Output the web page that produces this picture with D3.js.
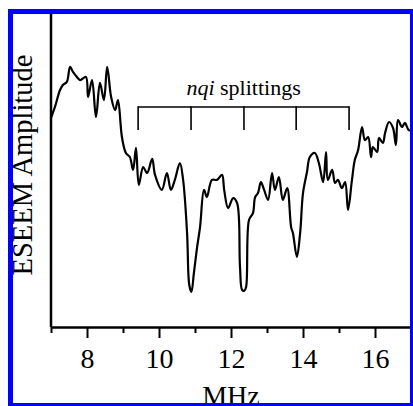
<!DOCTYPE html>
<html>
<head>
<meta charset="utf-8">
<script src="https://cdn.jsdelivr.net/npm/d3@7"></script>
<style>
  body { margin: 0; background: #fff; }
  svg { display: block; }
  text { font-family: 'Liberation Serif', 'Times New Roman', serif; fill: #000; }
</style>
</head>
<body>
<div class="chart"></div>
<script>
// DATA ------------------------------------
const freq = [7.00, 7.11, 7.25, 7.33, 7.44, 7.53, 7.61, 7.72, 7.81, 7.97, 8.03, 8.14, 8.25, 8.36, 8.47, 8.56,
  8.67, 8.78, 8.86, 8.97, 9.08, 9.19, 9.28, 9.36, 9.44, 9.56, 9.67, 9.81, 9.89, 10.08, 10.22, 10.33, 10.44,
  10.58, 10.67, 10.78, 10.84, 10.90, 10.97, 11.06, 11.14, 11.25, 11.33, 11.47, 11.61, 11.75, 11.81, 11.92, 12.06,
  12.17, 12.25, 12.31, 12.37, 12.42, 12.50, 12.61, 12.67, 12.75, 12.83, 12.92, 13.03, 13.14, 13.22, 13.33, 13.44,
  13.56, 13.67, 13.72, 13.83, 13.92, 14.00, 14.11, 14.19, 14.33, 14.44, 14.56, 14.64, 14.69, 14.81, 14.89,
  14.97, 15.08, 15.17, 15.25, 15.36, 15.44, 15.53, 15.64, 15.72, 15.81, 15.89, 15.94, 16.06, 16.11, 16.22,
  16.28, 16.39, 16.50, 16.58, 16.64, 16.75, 16.83, 16.94, 17.06]
const amplitude = [66.8, 70.3, 75.7, 77.3, 78.3, 83.1, 81.5, 79.9, 78.9, 79.9, 73.5, 78.9, 67.1, 78.0, 72.5, 83.1,
  73.5, 69.3, 72.5, 60.7, 55.6, 54.3, 50.2, 57.2, 45.4, 51.1, 49.2, 53.7, 48.6, 43.8, 49.2, 43.8, 47.0,
  52.4, 47.0, 30.0, 13.5, 11.2, 17.3, 25.6, 31.9, 43.8, 41.5, 47.0, 47.0, 48.6, 43.8, 38.0, 41.2,
  39.6, 19.2, 11.8, 11.6, 12.8, 34.2, 36.4, 41.5, 42.8, 46.3, 43.8, 40.6, 49.2, 43.8, 47.9, 40.6,
  44.4, 31.9, 30.0, 22.4, 30.0, 42.8, 49.5, 54.3, 55.6, 52.4, 46.3, 55.9, 47.0, 50.2, 46.0,
  47.0, 44.4, 46.3, 37.4, 47.0, 53.4, 56.5, 63.9, 59.7, 60.7, 54.3, 57.5, 55.9, 60.4, 58.8,
  62.0, 65.5, 63.6, 58.1, 66.1, 63.9, 65.2, 62.9, 62.9]
const xTicks = [8, 10, 12, 14, 16]
const xMinorTicks = [7, 9, 11, 13, 15, 17]
const splittings = [9.42, 10.89, 12.36, 13.81, 15.28]
const bracketTop = 70.3
const bracketBottom = 62.9

const W = 413
const H = 406
const margin = ({ top: 14, right: 0, bottom: 79, left: 51 })
const width = W - margin.left - margin.right
const height = H - margin.top - margin.bottom

// CHART INIT ------------------------------
const root = d3.select('.chart')
  .append('svg')
  .attr('width', W)
  .attr('height', H)

const svg = root.append('g')
  .attr('transform', 'translate(' + margin.left + ',' + margin.top + ')')

const xScale = d3.scaleLinear()
  .domain([7, 7 + width / 36])
  .range([0, width])

const yScale = d3.scaleLinear()
  .domain([0, 100])
  .range([height, 0])

// axes
const xAxis = d3.axisBottom(xScale).tickValues(xTicks).tickSize(11).tickSizeOuter(0).tickFormat(d3.format('d'))
const xMinor = d3.axisBottom(xScale).tickValues(xMinorTicks).tickSize(6).tickSizeOuter(0).tickFormat('')

const gx = svg.append('g')
  .attr('transform', `translate(0, ${height})`)
  .call(xAxis)
gx.select('.domain').attr('stroke-width', 2.5)
gx.selectAll('.tick line').attr('stroke-width', 2)
gx.selectAll('.tick text')
  .attr('font-size', 28)
  .attr('font-family', 'Liberation Serif, serif')
  .attr('dy', 0)
  .attr('y', 41)

const gm = svg.append('g')
  .attr('transform', `translate(0, ${height})`)
  .call(xMinor)
gm.select('.domain').remove()
gm.selectAll('.tick line').attr('stroke-width', 2)

svg.append('line')
  .attr('x1', 0).attr('x2', 0)
  .attr('y1', 0).attr('y2', height)
  .attr('stroke', '#000')
  .attr('stroke-width', 2.5)

// axis labels (MHz is cut by the frame, as in the original figure)
svg.append('text')
  .attr('x', xScale(12))
  .attr('y', height + 78)
  .attr('text-anchor', 'middle')
  .attr('font-size', 28)
  .text('MHz')

svg.append('text')
  .attr('transform', `translate(-19, ${(53 + 277) / 2 - margin.top}) rotate(-90)`)
  .attr('text-anchor', 'middle')
  .attr('font-size', 28.5)
  .text('ESEEM Amplitude')

// spectrum
const line = d3.line()
  .x(d => xScale(d[0]))
  .y(d => yScale(d[1]))
  .curve(d3.curveCatmullRom.alpha(0.5))

svg.append('path')
  .datum(d3.zip(freq, amplitude))
  .attr('fill', 'none')
  .attr('stroke', '#000')
  .attr('stroke-width', 2.2)
  .attr('stroke-linejoin', 'round')
  .attr('d', line)

// nqi splittings bracket
svg.append('line')
  .attr('x1', xScale(splittings[0])).attr('x2', xScale(splittings[splittings.length - 1]))
  .attr('y1', yScale(bracketTop)).attr('y2', yScale(bracketTop))
  .attr('stroke', '#000')
  .attr('stroke-width', 1.6)

svg.selectAll('.split')
  .data(splittings)
  .enter()
  .append('line')
  .attr('class', 'split')
  .attr('x1', d => xScale(d)).attr('x2', d => xScale(d))
  .attr('y1', yScale(bracketTop) - 0.8).attr('y2', yScale(bracketBottom))
  .attr('stroke', '#000')
  .attr('stroke-width', 1.6)

const lab = svg.append('text')
  .attr('x', xScale(12.35))
  .attr('y', yScale(bracketTop) - 12)
  .attr('text-anchor', 'middle')
  .attr('font-size', 22)
lab.append('tspan').attr('font-style', 'italic').text('nqi')
lab.append('tspan').text(' splittings')

// blue frame
root.append('rect')
  .attr('x', 10.5).attr('y', 11.5)
  .attr('width', 402).attr('height', 394)
  .attr('fill', 'none')
  .attr('stroke', '#0000ff')
  .attr('stroke-width', 5)
</script>
</body>
</html>
